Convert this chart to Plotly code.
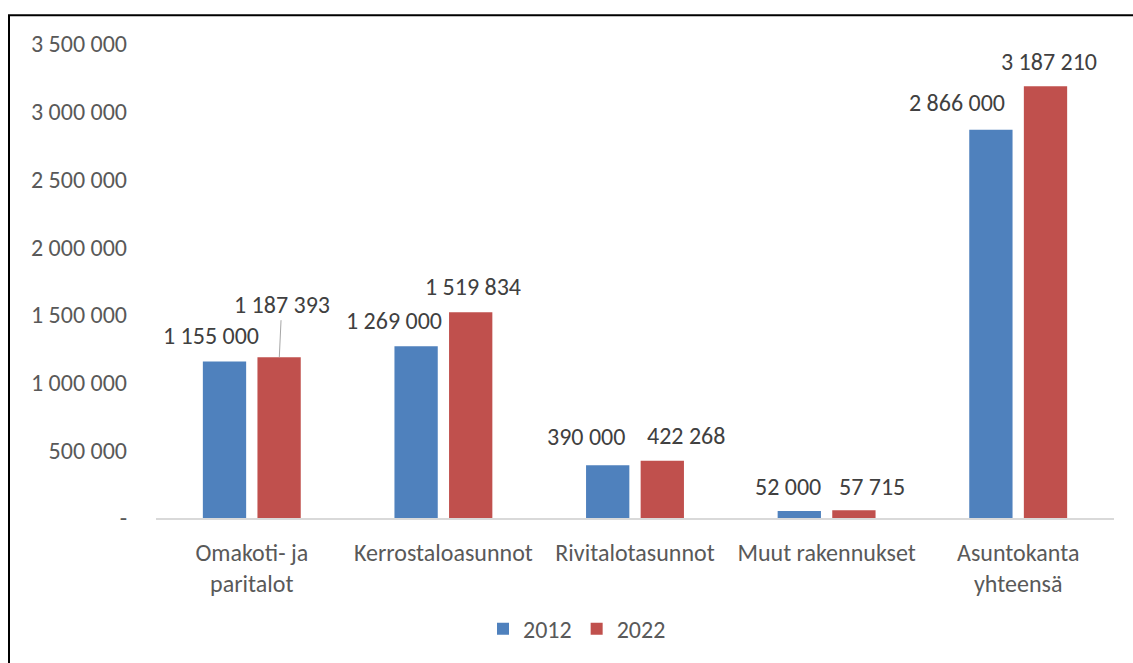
import plotly.graph_objects as go

categories = ["Omakoti- ja<br>paritalot", "Kerrostaloasunnot", "Rivitalotasunnot",
              "Muut rakennukset", "Asuntokanta<br>yhteensä"]
series_names = ["2012", "2022"]
values_2012 = [1155000, 1269000, 390000, 52000, 2866000]
values_2022 = [1187393, 1519834, 422268, 57715, 3187210]
y_tick_values = [0, 500000, 1000000, 1500000, 2000000, 2500000, 3000000, 3500000]

COLORS = ["#4f81bd", "#c0504d"]
FONT = "Carlito, Calibri, Lato, sans-serif"
W, H = 1133, 663
L, R, T, B = 156, 19, 44, 141


def fmt(v):
    return "-" if v == 0 else f"{v:,}".replace(",", " ")


fig = go.Figure()
for name, vals, col in zip(series_names, [values_2012, values_2022], COLORS):
    fig.add_trace(go.Bar(name=name, x=categories, y=vals, marker_color=col,
                         marker_line_width=0))

# label placement: (pixel shift from group centre, pixel lift above bar top, leader line)
label_layout = {
    0: [(-41, 26, False), (30, 53, True)],
    1: [(-49, 26, False), (30, 26, False)],
    2: [(-49, 29, False), (51, 25, False)],
    3: [(-39, 24, False), (45, 24, False)],
    4: [(-61, 27, False), (31, 25, False)],
}
bar_offset = 27.5
annotations = []
for i, cat in enumerate(categories):
    for s, vals in enumerate([values_2012, values_2022]):
        dx, lift, leader = label_layout[i][s]
        lbl_font = dict(family=FONT, size=24, color="#404040")
        if leader:
            annotations.append(dict(
                x=cat, y=vals[i], xref="x", yref="y", text=fmt(vals[i]),
                showarrow=True, arrowhead=0, arrowwidth=1, arrowcolor="#a6a6a6",
                xshift=bar_offset, ax=dx - bar_offset, ay=-lift, font=lbl_font))
        else:
            annotations.append(dict(
                x=cat, y=vals[i], xref="x", yref="y", text=fmt(vals[i]),
                showarrow=False, xshift=dx, yshift=lift, yanchor="middle",
                font=lbl_font))

pw, ph = W - L - R, H - T - B
px = lambda x: (x - L) / pw
py = lambda y: (H - B - y) / ph

fig.update_layout(
    width=W, height=H,
    margin=dict(l=L, r=R, t=T, b=B),
    paper_bgcolor="white", plot_bgcolor="white",
    barmode="group", bargap=0.43, bargroupgap=0.207,
    font=dict(family=FONT, size=24, color="#595959"),
    showlegend=True,
    legend=dict(orientation="h", x=px(577), xanchor="center", y=py(634), yanchor="middle",
                font=dict(family=FONT, size=24, color="#595959"),
                itemwidth=30, traceorder="normal"),
    annotations=annotations,
    shapes=[dict(type="rect", xref="paper", yref="paper",
                 x0=px(9), x1=px(W + 20), y0=py(H + 20), y1=py(15),
                 line=dict(color="black", width=2), fillcolor="rgba(0,0,0,0)")],
)
fig.update_xaxes(showline=True, linecolor="#d9d9d9", linewidth=2, showgrid=False,
                 ticks="", ticklabelstandoff=12,
                 tickfont=dict(family=FONT, size=24, color="#595959"))
fig.update_yaxes(range=[0, 3500000], tickvals=y_tick_values,
                 ticktext=[fmt(v) for v in y_tick_values], showgrid=False,
                 zeroline=False, showline=False, ticks="", ticklabelstandoff=28,
                 tickfont=dict(family=FONT, size=24, color="#595959"))

fig.write_html("out.html")
